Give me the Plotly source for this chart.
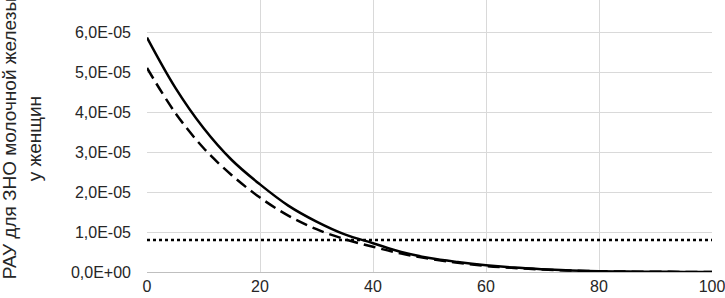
import plotly.graph_objects as go

x_vals = [0, 5, 10, 15, 20, 25, 30, 35, 40, 45, 50, 55, 60, 65, 70, 75, 80, 85, 90, 95, 100]
solid_vals = [5.86e-5, 4.61e-5, 3.60e-5, 2.80e-5, 2.19e-5, 1.66e-5, 1.26e-5, 0.94e-5, 0.72e-5,
              0.50e-5, 0.35e-5, 0.25e-5, 0.17e-5, 0.11e-5, 0.07e-5, 0.04e-5, 0.02e-5, 0.01e-5,
              0.005e-5, 0.002e-5, 0.001e-5]
dashed_vals = [5.10e-5, 3.98e-5, 3.10e-5, 2.42e-5, 1.86e-5, 1.41e-5, 1.07e-5, 0.82e-5, 0.63e-5,
               0.46e-5, 0.33e-5, 0.23e-5, 0.15e-5, 0.10e-5, 0.06e-5, 0.035e-5, 0.02e-5, 0.01e-5,
               0.005e-5, 0.002e-5, 0.001e-5]
threshold_x = [0, 100]
threshold_vals = [0.8e-5, 0.8e-5]

y_tickvals = [0, 1e-5, 2e-5, 3e-5, 4e-5, 5e-5, 6e-5]
y_ticktext = ["0,0E+00", "1,0E-05", "2,0E-05", "3,0E-05", "4,0E-05", "5,0E-05", "6,0E-05"]
x_tickvals = [0, 20, 40, 60, 80, 100]
x_ticktext = ["0", "20", "40", "60", "80", "100"]
y_title = "РАУ для ЗНО молочной железы<br>у женщин"

fig = go.Figure()
fig.add_trace(go.Scatter(x=threshold_x, y=threshold_vals, mode="lines",
                         line=dict(color="black", width=2.5, dash="dot"), showlegend=False))
fig.add_trace(go.Scatter(x=x_vals, y=dashed_vals, mode="lines",
                         line=dict(color="black", width=2.5, dash="12px,6px", shape="spline"),
                         showlegend=False))
fig.add_trace(go.Scatter(x=x_vals, y=solid_vals, mode="lines",
                         line=dict(color="black", width=2.5, shape="spline"), showlegend=False))

font = "Liberation Sans, Arial, sans-serif"
fig.update_layout(
    width=725, height=298,
    margin=dict(l=147, r=13, t=0, b=26),
    plot_bgcolor="white", paper_bgcolor="white",
    font=dict(family=font, size=16, color="#262626"),
    xaxis=dict(range=[0, 100], tickvals=x_tickvals, ticktext=x_ticktext,
               showgrid=True, gridcolor="#d9d9d9", gridwidth=1,
               showline=True, linecolor="#bfbfbf", linewidth=1,
               zeroline=False, ticks="", fixedrange=True, ticklabeloverflow="allow"),
    yaxis=dict(range=[0, 6.8e-5], tickvals=y_tickvals, ticktext=y_ticktext,
               showgrid=True, gridcolor="#d9d9d9", gridwidth=1,
               showline=False, zeroline=False, ticks="", ticklabelstandoff=15,
               fixedrange=True),
    annotations=[dict(text=y_title, x=-0.222, y=0.49, xref="paper", yref="paper",
                      xanchor="center", yanchor="middle", textangle=-90, showarrow=False,
                      font=dict(size=19, color="#262626", family=font))],
)
fig.write_html("out.html", config={"displayModeBar": False},
               post_script="document.body.style.margin='0';document.body.style.overflow='hidden';")
